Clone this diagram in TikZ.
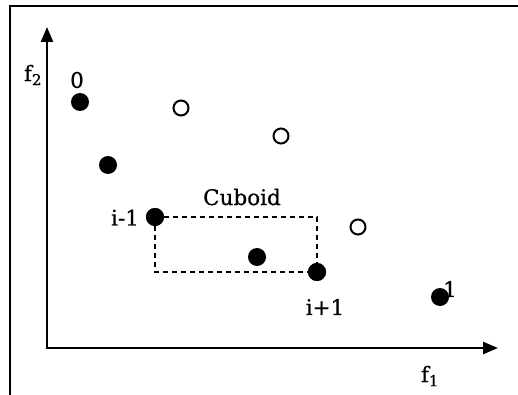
\documentclass[tikz,border=0pt]{standalone}
\usepackage{fontspec}
\newfontfamily\lblfont{DejaVu Serif}[FakeBold=0.6]
\usetikzlibrary{arrows.meta}
\begin{document}
\begin{tikzpicture}[x=1pt,y=-1pt,
  full/.style={circle,fill=black,inner sep=0pt,minimum size=18pt},
  hollow/.style={circle,draw=black,line width=2pt,fill=white,inner sep=0pt,minimum size=15pt},
  lbl/.style={font=\lblfont\fontsize{21.5}{24}\selectfont,inner sep=0pt},
  axis/.style={line width=2.4pt,-{Triangle[length=15pt,width=12pt]}},
  cub/.style={line width=1.3pt,dash pattern=on 5pt off 4pt}]
\useasboundingbox (0,0) rectangle (518,395);
% frame (cropped)
\draw[line width=2pt] (518,6) -- (10,6) -- (10,395);
% axes
\coordinate (o) at (47,348);
\coordinate (yt) at (47,27);
\coordinate (xt) at (498,348);
\draw[axis] (o) -- (yt);
\draw[axis] ([xshift=-1.2pt]o) -- (xt);
\node[lbl] (f2) at (33,75) {f\textsubscript{2}};
\node[lbl] (f1) at (430,376) {f\textsubscript{1}};
% points
\node[full] (p0) at (80,102) {};
\node[full] (pa) at (108,165) {};
\node[full] (pm) at (155,217) {};
\node[full] (pc) at (257,257) {};
\node[full] (pp) at (317,272) {};
\node[full] (p1) at (440,297) {};
% cuboid
\coordinate (c1) at (317,217);
\coordinate (c2) at (155,272);
\draw[cub] (pm.center) -- (c1) -- (pp.center);
\draw[cub] (pm.center) -- (c2) -- (pp.center);
\node[full] at (pm) {};
\node[full] at (pp) {};
\node[hollow] (h1) at (181,108) {};
\node[hollow] (h2) at (281,136) {};
\node[hollow] (h3) at (358,227) {};
% labels
\node[lbl] (l0) at (77,80) {0};
\node[lbl] (lm) at (125,217.5) {i-1};
\node[lbl] (lp) at (325,307) {i+1};
\node[lbl] (l1) at (450,289) {1};
\node[lbl] (lc) at (242,197) {Cuboid};
\end{tikzpicture}
\end{document}
